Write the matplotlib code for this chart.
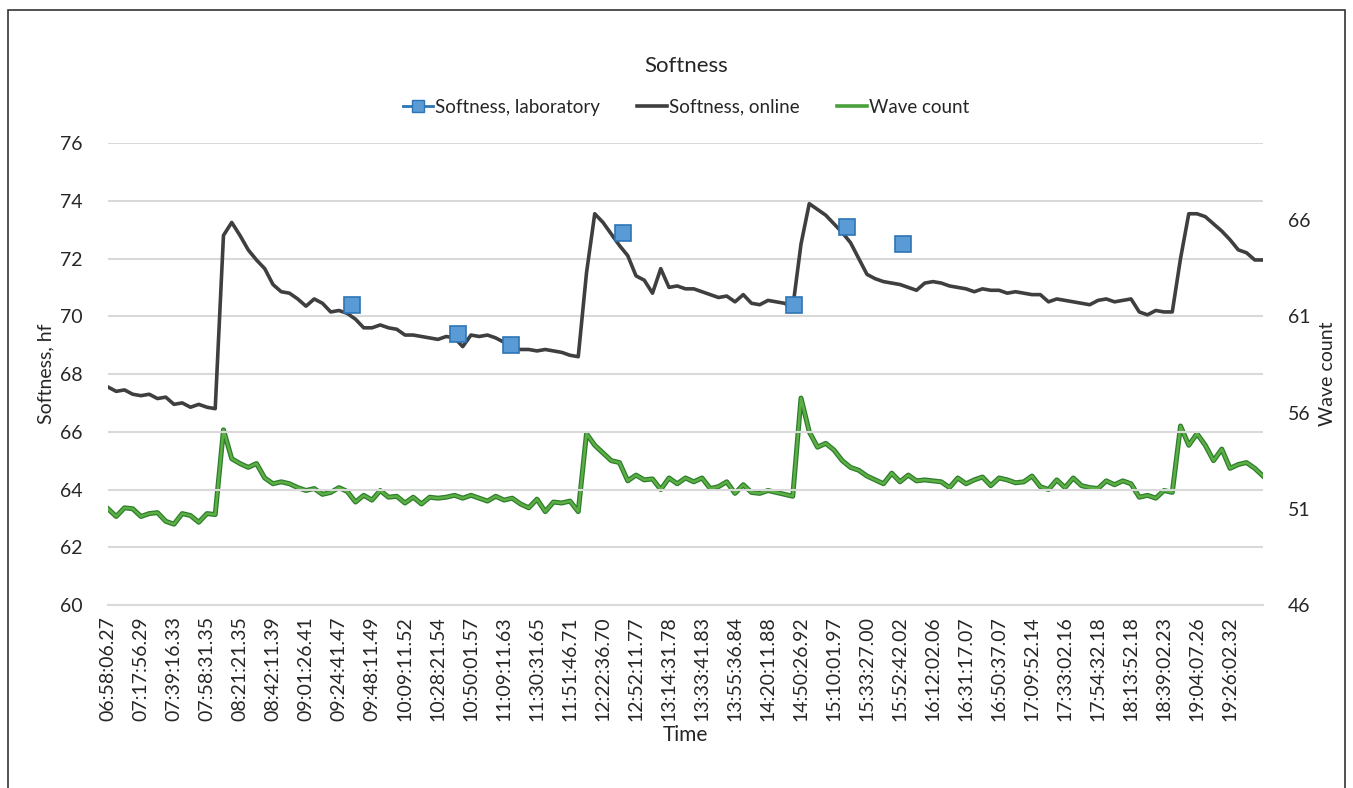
import numpy as np
import matplotlib.pyplot as plt
from matplotlib.lines import Line2D
from matplotlib.patches import Rectangle

plt.rcParams['font.family'] = ['Lato', 'DejaVu Sans']

# time stamps shown on the category axis (one every 10 samples)
time_labels = [
    '06:58:06.27', '07:17:56.29', '07:39:16.33', '07:58:31.35', '08:21:21.35',
    '08:42:11.39', '09:01:26.41', '09:24:41.47', '09:48:11.49', '10:09:11.52',
    '10:28:21.54', '10:50:01.57', '11:09:11.63', '11:30:31.65', '11:51:46.71',
    '12:22:36.70', '12:52:11.77', '13:14:31.78', '13:33:41.83', '13:55:36.84',
    '14:20:11.88', '14:50:26.92', '15:10:01.97', '15:33:27.00', '15:52:42.02',
    '16:12:02.06', '16:31:17.07', '16:50:37.07', '17:09:52.14', '17:33:02.16',
    '17:54:32.18', '18:13:52.18', '18:39:02.23', '19:04:07.26', '19:26:02.32',
]

# online softness (hf), one value every 2.5 samples
softness_online = [
    67.55, 67.4, 67.45, 67.3, 67.25, 67.3, 67.15, 67.2, 66.95, 67.0,
    66.85, 66.95, 66.85, 66.8, 72.8, 73.25, 72.8, 72.3, 71.95, 71.65,
    71.1, 70.85, 70.8, 70.6, 70.35, 70.6, 70.45, 70.15, 70.2, 70.1,
    69.9, 69.6, 69.6, 69.7, 69.6, 69.55, 69.35, 69.35, 69.3, 69.25,
    69.2, 69.3, 69.25, 68.95, 69.35, 69.3, 69.35, 69.25, 69.1, 68.9,
    68.85, 68.85, 68.8, 68.85, 68.8, 68.75, 68.65, 68.6, 71.5, 73.55,
    73.25, 72.85, 72.45, 72.1, 71.4, 71.25, 70.8, 71.65, 71.0, 71.05,
    70.95, 70.95, 70.85, 70.75, 70.65, 70.7, 70.5, 70.75, 70.45, 70.4,
    70.55, 70.5, 70.45, 70.3, 72.5, 73.9, 73.7, 73.5, 73.2, 72.9,
    72.55, 72.0, 71.45, 71.3, 71.2, 71.15, 71.1, 71.0, 70.9, 71.15,
    71.2, 71.15, 71.05, 71.0, 70.95, 70.85, 70.95, 70.9, 70.9, 70.8,
    70.85, 70.8, 70.75, 70.75, 70.5, 70.6, 70.55, 70.5, 70.45, 70.4,
    70.55, 70.6, 70.5, 70.55, 70.6, 70.15, 70.05, 70.2, 70.15, 70.15,
    72.0, 73.55, 73.55, 73.45, 73.2, 72.95, 72.65, 72.3, 72.2, 71.95, 71.95,
]

# wave count, same sampling as the online softness
wave_count = [
    51.0, 50.6, 51.05, 51.0, 50.6, 50.75, 50.8, 50.35, 50.2, 50.75,
    50.65, 50.3, 50.75, 50.7, 55.1, 53.6, 53.35, 53.15, 53.35, 52.6,
    52.3, 52.4, 52.3, 52.1, 51.95, 52.05, 51.75, 51.85, 52.1, 51.9,
    51.35, 51.7, 51.45, 51.95, 51.6, 51.65, 51.3, 51.6, 51.25, 51.6,
    51.55, 51.6, 51.7, 51.55, 51.7, 51.55, 51.4, 51.65, 51.45, 51.55,
    51.25, 51.05, 51.5, 50.85, 51.35, 51.3, 51.4, 50.85, 54.9, 54.3,
    53.9, 53.5, 53.4, 52.45, 52.75, 52.5, 52.55, 52.0, 52.6, 52.3,
    52.6, 52.4, 52.6, 52.05, 52.15, 52.4, 51.8, 52.25, 51.85, 51.8,
    51.95, 51.85, 51.75, 51.65, 56.75, 55.0, 54.2, 54.4, 54.05, 53.5,
    53.15, 53.0, 52.7, 52.5, 52.3, 52.85, 52.4, 52.75, 52.45, 52.5,
    52.45, 52.4, 52.1, 52.6, 52.3, 52.5, 52.65, 52.2, 52.6, 52.5,
    52.35, 52.4, 52.7, 52.15, 52.0, 52.5, 52.1, 52.6, 52.2, 52.1,
    52.05, 52.45, 52.25, 52.45, 52.3, 51.6, 51.7, 51.55, 51.95, 51.85,
    55.3, 54.3, 54.9, 54.3, 53.5, 54.1, 53.1, 53.3, 53.4, 53.1, 52.7,
]

# laboratory softness samples (sample index, hf)
lab_sample = [74, 106, 122, 156, 208, 224, 241]
lab_softness = [70.4, 69.4, 69.0, 72.9, 70.4, 73.1, 72.5]

sample = np.arange(len(softness_online)) * 2.5
tick_pos = np.arange(len(time_labels)) * 10

fig = plt.figure(figsize=(13.53, 7.88), dpi=100)
ax = fig.add_axes([0.0798, 0.2322, 0.8537, 0.5863])
ax2 = ax.twinx()

grid_c = '#d9d9d9'
ax.set_ylim(60, 76)
ax.set_yticks(np.arange(60, 77, 2))
ax.set_xlim(0, 350)
ax.grid(axis='y', color=grid_c, lw=1.5)
ax.set_axisbelow(True)
ax2.set_ylim(46, 70)
ax2.set_yticks([46, 51, 56, 61, 66])

for a in (ax, ax2):
    for s in a.spines.values():
        s.set_visible(False)
    a.tick_params(length=0, labelsize=14, colors='#262626')
ax.spines['bottom'].set_visible(True)
ax.spines['bottom'].set_color(grid_c)
ax.spines['bottom'].set_linewidth(1.5)

ax.set_xticks(tick_pos)
ax.set_xticklabels(time_labels, rotation=90, fontsize=14)
ax.tick_params(axis='x', pad=8)
ax.tick_params(axis='y', pad=18)
ax2.tick_params(axis='y', pad=18)

# wave count on the secondary axis: dark outline under a lighter green
ax2.plot(sample, wave_count, color='#2e7d2e', lw=3.6, solid_joinstyle='round')
ax2.plot(sample, wave_count, color='#5cb043', lw=1.8, solid_joinstyle='round')

ax.plot(sample, softness_online, color='#3f3f3f', lw=2.6, solid_joinstyle='round', zorder=3)
ax.plot(lab_sample, lab_softness, ls='none', marker='s', ms=12,
        mfc='#5b9bd5', mec='#2e75b6', mew=1.2, zorder=4)
ax.set_zorder(ax2.get_zorder() + 1)
ax.patch.set_visible(False)

ax.set_ylabel('Softness, hf', fontsize=14, color='#262626', labelpad=4)
ax2.set_ylabel('Wave count', fontsize=14, color='#262626', labelpad=6)
ax.set_xlabel('Time', fontsize=15, color='#262626', labelpad=3)

fig.text(0.507, 0.916, 'Softness', ha='center', va='center', fontsize=16, color='#262626')

handles = [
    Line2D([], [], color='#2e75b6', lw=2, marker='s', ms=8, mfc='#5b9bd5', mec='#2e75b6'),
    Line2D([], [], color='#3f3f3f', lw=2.6),
    Line2D([], [], color='#4aa03a', lw=2.6),
]
fig.legend(handles, ['Softness, laboratory', 'Softness, online', 'Wave count'],
           loc='center', bbox_to_anchor=(0.507, 0.864), ncol=3, frameon=False,
           fontsize=13.5, handlelength=1.6, handletextpad=0.1, columnspacing=2.0,
           labelcolor='#262626')

# outer frame
fig.patches.append(Rectangle((0.006, -0.01), 0.988, 0.997, transform=fig.transFigure,
                             fill=False, ec='#333333', lw=1.2))

fig.savefig('out.png', dpi=100)
